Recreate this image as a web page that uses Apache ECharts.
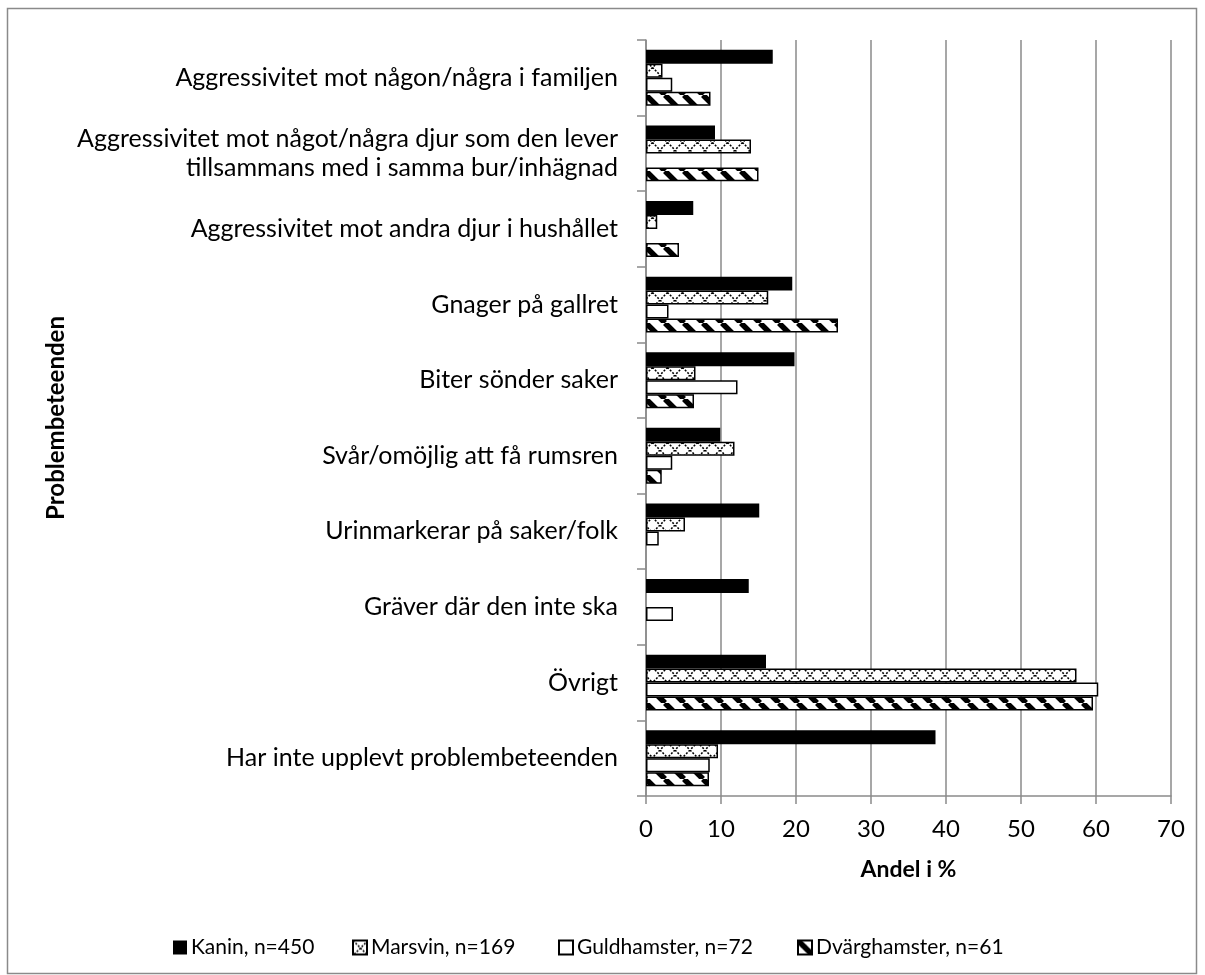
<!DOCTYPE html>
<html>
<head>
<meta charset="utf-8">
<script src="https://cdn.jsdelivr.net/npm/echarts@6/dist/echarts.min.js"></script>
<style>
  html, body { margin: 0; padding: 0; background: #fff; }
  #chart { width: 1205px; height: 975px; }
</style>
</head>
<body>
<div id="chart"></div>
<script>
var categories = [
    'Aggressivitet mot någon/några i familjen',
    'Aggressivitet mot något/några djur som den lever\ntillsammans med i samma bur/inhägnad',
    'Aggressivitet mot andra djur i hushållet',
    'Gnager på gallret',
    'Biter sönder saker',
    'Svår/omöjlig att få rumsren',
    'Urinmarkerar på saker/folk',
    'Gräver där den inte ska',
    'Övrigt',
    'Har inte upplevt problembeteenden'
];
var kanin = [16.9, 9.2, 6.3, 19.5, 19.8, 9.9, 15.1, 13.7, 16.0, 38.6];
var marsvin = [2.2, 14.0, 1.5, 16.3, 6.6, 11.8, 5.2, 0, 57.4, 9.6];
var guldhamster = [3.5, 0, 0, 3.0, 12.2, 3.5, 1.7, 3.6, 60.3, 8.5];
var dvarghamster = [8.6, 15.0, 4.4, 25.6, 6.4, 2.1, 0, 0, 59.6, 8.4];
var seriesNames = ['Kanin, n=450', 'Marsvin, n=169', 'Guldhamster, n=72', 'Dvärghamster, n=61'];
var xTicks = [0, 70, 10];

var FONT = 'Lato';

// rutmönster för marsvin
var hatch = function () {
    var s = 15;
    var c = document.createElement('canvas');
    c.width = s; c.height = s;
    var ctx = c.getContext('2d');
    ctx.fillStyle = '#fff';
    ctx.fillRect(0, 0, s, s);
    ctx.strokeStyle = '#000';
    ctx.lineWidth = 1.5;
    ctx.setLineDash([2, 1.5]);
    ctx.beginPath();
    ctx.moveTo(0, 0); ctx.lineTo(s, s);
    ctx.moveTo(s, 0); ctx.lineTo(0, s);
    ctx.stroke();
    return c;
};
// diagonala ränder för dvärghamster
var stripes = function () {
    var s = 19;
    var c = document.createElement('canvas');
    c.width = s; c.height = s;
    var ctx = c.getContext('2d');
    ctx.fillStyle = '#fff';
    ctx.fillRect(0, 0, s, s);
    ctx.strokeStyle = '#000';
    ctx.lineWidth = 5.5;
    ctx.beginPath();
    for (var k = -1; k <= 1; k++) {
        ctx.moveTo(k * s, 0);
        ctx.lineTo(k * s + s, s);
    }
    ctx.stroke();
    return c;
};

// nollor ritas inte alls
var noZero = function (arr) {
    return arr.map(function (v) { return v === 0 ? '-' : v; });
};

var chart = echarts.init(document.getElementById('chart'));

var makeSeries = function (name, data, style) {
    return {
        name: name,
        type: 'bar',
        data: noZero(data),
        barGap: '0%',
        barCategoryGap: '26%',
        itemStyle: style
    };
};

// en legend per serie så att varje post hamnar där den ska
var legendLeft = [168, 347, 553, 792];
var legends = seriesNames.map(function (n, i) {
    return {
        top: 932,
        left: legendLeft[i],
        itemWidth: 14,
        itemHeight: 14,
        itemGap: 0,
        icon: 'rect',
        textStyle: { fontSize: 21, color: '#000', fontFamily: FONT, padding: [0, 0, 0, -1] },
        data: [n]
    };
});

var option = {
    animation: false,
    textStyle: { fontFamily: FONT },
    grid: { left: 646, right: 34, top: 40, bottom: 179 },
    graphic: [{
        type: 'rect',
        shape: { x: 7.5, y: 8.5, width: 1189, height: 965 },
        style: { fill: 'none', stroke: '#8a8a8a', lineWidth: 1.5 },
        silent: true
    }],
    legend: legends,
    xAxis: {
        type: 'value',
        min: xTicks[0],
        max: xTicks[1],
        interval: xTicks[2],
        name: 'Andel i %',
        nameLocation: 'middle',
        nameGap: 62,
        nameTextStyle: { fontSize: 23, fontWeight: 'bold', color: '#000', fontFamily: FONT },
        axisLine: { show: true, lineStyle: { color: '#8a8a8a', width: 1.5 } },
        axisTick: { show: true, length: 8, lineStyle: { color: '#8a8a8a', width: 1.5 } },
        axisLabel: { fontSize: 24, color: '#000', margin: 21, fontFamily: FONT },
        splitLine: { show: true, lineStyle: { color: '#8a8a8a', width: 1.5 } }
    },
    yAxis: {
        type: 'category',
        inverse: true,
        data: categories,
        name: 'Problembeteenden',
        nameLocation: 'middle',
        nameRotate: 90,
        nameGap: 578,
        nameTextStyle: { fontSize: 24, fontWeight: 'bold', color: '#000', fontFamily: FONT },
        axisLine: { show: true, lineStyle: { color: '#8a8a8a', width: 1.5 } },
        axisTick: { show: true, length: 9, lineStyle: { color: '#8a8a8a', width: 1.5 } },
        axisLabel: { fontSize: 25, color: '#000', margin: 28, lineHeight: 29, align: 'right', fontFamily: FONT }
    },
    series: [
        makeSeries(seriesNames[0], kanin, { color: '#000' }),
        makeSeries(seriesNames[1], marsvin, {
            color: { image: hatch(), repeat: 'repeat' },
            borderColor: '#000', borderWidth: 1.5
        }),
        makeSeries(seriesNames[2], guldhamster, {
            color: '#fff', borderColor: '#000', borderWidth: 1.5
        }),
        makeSeries(seriesNames[3], dvarghamster, {
            color: { image: stripes(), repeat: 'repeat' },
            borderColor: '#000', borderWidth: 1.5
        })
    ]
};
chart.setOption(option);
</script>
</body>
</html>
